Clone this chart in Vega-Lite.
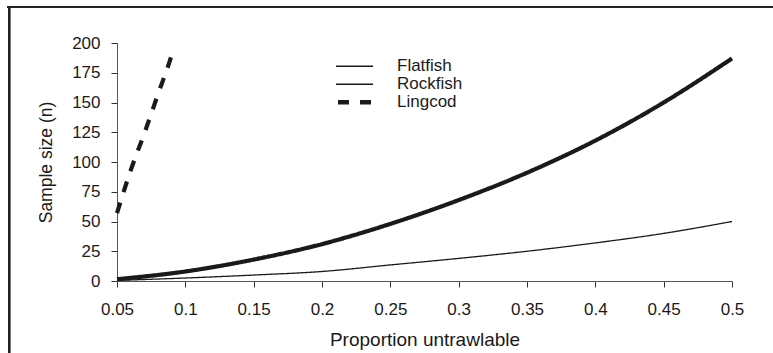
{
  "$schema": "https://vega.github.io/schema/vega-lite/v6.json",
  "autosize": {"type": "none"},
  "width": 615,
  "height": 238,
  "padding": {"left": 117, "top": 43, "right": 41, "bottom": 72},
  "background": "white",
  "config": {
    "view": {"stroke": null},
    "font": "Liberation Sans",
    "axis": {"grid": false, "domainColor": "#555", "tickColor": "#333", "labelColor": "#1a1a1a", "titleColor": "#1a1a1a", "labelFont": "Liberation Sans", "titleFont": "Liberation Sans", "titleFontWeight": "normal", "labelOverlap": false}
  },
  "data": {
    "values": [
      {"species": "Flatfish", "p": 0.05, "n": 0.5},
      {"species": "Flatfish", "p": 0.1, "n": 2.5},
      {"species": "Flatfish", "p": 0.15, "n": 5},
      {"species": "Flatfish", "p": 0.2, "n": 8},
      {"species": "Flatfish", "p": 0.25, "n": 13.5},
      {"species": "Flatfish", "p": 0.3, "n": 19},
      {"species": "Flatfish", "p": 0.35, "n": 25},
      {"species": "Flatfish", "p": 0.4, "n": 32},
      {"species": "Flatfish", "p": 0.45, "n": 40},
      {"species": "Flatfish", "p": 0.5, "n": 50},
      {"species": "Rockfish", "p": 0.05, "n": 1.5},
      {"species": "Rockfish", "p": 0.1, "n": 8},
      {"species": "Rockfish", "p": 0.15, "n": 18},
      {"species": "Rockfish", "p": 0.2, "n": 31},
      {"species": "Rockfish", "p": 0.25, "n": 48},
      {"species": "Rockfish", "p": 0.3, "n": 68},
      {"species": "Rockfish", "p": 0.35, "n": 91},
      {"species": "Rockfish", "p": 0.4, "n": 118},
      {"species": "Rockfish", "p": 0.45, "n": 150},
      {"species": "Rockfish", "p": 0.5, "n": 187},
      {"species": "Lingcod", "p": 0.05, "n": 57},
      {"species": "Lingcod", "p": 0.06, "n": 93},
      {"species": "Lingcod", "p": 0.07, "n": 124},
      {"species": "Lingcod", "p": 0.08, "n": 157},
      {"species": "Lingcod", "p": 0.09, "n": 190},
      {"species": "Lingcod", "p": 0.0915, "n": 196}
    ]
  },
  "layer": [
    {
      "mark": {"type": "rule", "color": "#222", "strokeWidth": 2, "clip": false},
      "encoding": {
        "x": {"datum": -0.029, "type": "quantitative", "scale": {"domain": [0.05, 0.5], "nice": false},
          "axis": {"title": "Proportion untrawlable", "values": [0.05, 0.1, 0.15, 0.2, 0.25, 0.3, 0.35, 0.4, 0.45, 0.5], "tickCount": 20, "format": ".2~f", "labelFontSize": 17, "titleFontSize": 19, "tickSize": 6, "labelPadding": 14, "titlePadding": 13, "labelFlush": false}},
        "y": {"datum": 230.3, "type": "quantitative", "scale": {"domain": [0, 200], "nice": false},
          "axis": {"title": "Sample size (n)", "values": [0, 25, 50, 75, 100, 125, 150, 175, 200], "tickCount": 20, "labelFontSize": 17, "titleFontSize": 17.5, "tickSize": 6, "labelPadding": 11, "titlePadding": 16}},
        "y2": {"datum": -70}
      }
    },
    {
      "mark": {"type": "rule", "color": "#222", "strokeWidth": 2, "clip": false},
      "encoding": {
        "x": {"datum": -0.03, "type": "quantitative"},
        "x2": {"datum": 0.6},
        "y": {"datum": 230.3, "type": "quantitative"}
      }
    },
    {
      "mark": {"type": "line", "color": "#1a1a1a", "interpolate": "monotone"},
      "encoding": {
        "x": {
          "field": "p", "type": "quantitative",
          "scale": {"domain": [0.05, 0.5], "nice": false},
          "axis": {"title": "Proportion untrawlable", "values": [0.05, 0.1, 0.15, 0.2, 0.25, 0.3, 0.35, 0.4, 0.45, 0.5], "tickCount": 20, "format": ".2~f", "labelFontSize": 17, "titleFontSize": 19, "tickSize": 6, "labelPadding": 14, "titlePadding": 13, "labelFlush": false}
        },
        "y": {
          "field": "n", "type": "quantitative",
          "scale": {"domain": [0, 200], "nice": false},
          "axis": {"title": "Sample size (n)", "values": [0, 25, 50, 75, 100, 125, 150, 175, 200], "tickCount": 20, "labelFontSize": 17, "titleFontSize": 17.5, "tickSize": 6, "labelPadding": 11, "titlePadding": 16}
        },
        "strokeDash": {
          "field": "species", "type": "nominal",
          "scale": {"domain": ["Flatfish", "Rockfish", "Lingcod"], "range": [[1, 0], [1, 0], [11, 11]]},
          "legend": {
            "title": null, "orient": "none", "legendX": 219, "legendY": 15,
            "symbolType": "stroke", "symbolSize": 3249, "symbolStrokeColor": "#1a1a1a",
            "clipHeight": 16.5, "rowPadding": 0, "labelOffset": 44, "padding": 0,
            "labelFontSize": 17, "labelColor": "#1a1a1a", "labelFont": "Liberation Sans",
            "encode": {"symbols": {"update": {"strokeWidth": {"signal": "datum.value === 'Lingcod' ? 4.5 : 1.6"}}}}
          }
        },
        "strokeWidth": {
          "condition": {"test": "datum.species !== 'Flatfish'", "value": 4.2},
          "value": 1.3
        }
      }
    }
  ]
}
